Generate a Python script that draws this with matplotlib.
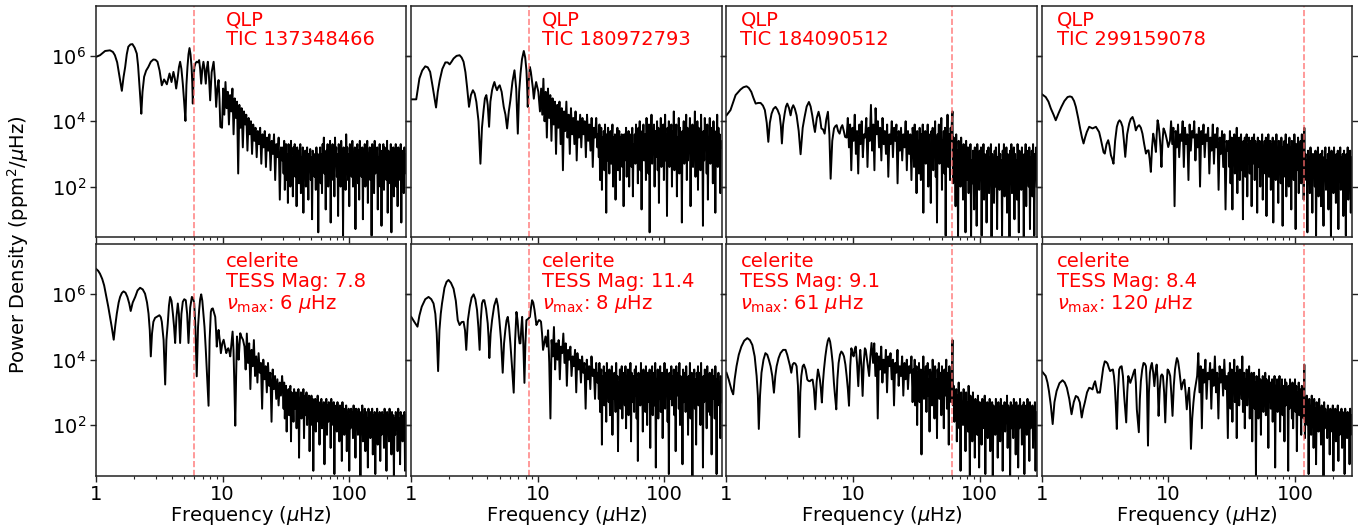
import numpy as np
import matplotlib
matplotlib.use("Agg")
import matplotlib.pyplot as plt
from matplotlib.ticker import FixedLocator, NullLocator, FuncFormatter, LogLocator, NullFormatter

# ---------------- data (frequency in uHz, log10 power density in ppm^2/uHz) ----------------
f_max = 283.0
f_split = 30.0

tic_ids = ["137348466", "180972793", "184090512", "299159078"]
tess_mag = ["7.8", "11.4", "9.1", "8.4"]
numax_label = ["6", "8", "61", "120"]
numax_line = [5.95, 8.45, 61.0, 119.0]
text_x = [0.42, 0.42, 0.045, 0.05]

# ---- smooth low-frequency part: (frequency, log10 power) ----
smooth1 = [(1.00,5.97),(1.075,6.02),(1.18,6.15),(1.29,6.17),(1.36,6.12),(1.41,6.02),(1.47,5.8),(1.52,5.46),(1.56,5.2),(1.60,4.93),
           (1.65,5.35),(1.70,5.66),(1.75,6.05),(1.80,6.28),(1.87,6.35),(1.94,6.36),(2.02,6.25),(2.10,6.07),(2.15,5.7),(2.20,5.15),
           (2.24,4.7),(2.28,4.23),(2.33,4.9),(2.40,5.36),(2.49,5.55),(2.59,5.66),(2.71,5.82),(2.84,5.89),(2.95,5.88),(3.06,5.82),
           (3.18,5.55),(3.31,5.10),(3.45,5.28),(3.63,5.13),(3.81,5.46),(3.95,5.20),(4.09,5.51),(4.20,5.3),(4.30,5.00),(4.43,5.36),
           (4.52,5.65),(4.62,5.82),(4.73,5.6),(4.85,5.15),(4.97,4.6),(5.09,4.01),(5.18,5.1),(5.28,5.66),(5.38,6.05),(5.48,6.24),
           (5.58,6.05),(5.69,5.66),(5.76,5.2),(5.82,4.54),(5.9,5.3),(5.99,5.66),(6.12,5.78),(6.25,5.82),(6.4,5.8),(6.53,5.87),
           (6.65,5.6),(6.78,5.15),(6.92,5.6),(7.06,5.82),(7.2,5.6),(7.37,5.15),(7.5,5.6),(7.65,5.82),(7.8,5.4),(7.98,4.64),
           (8.2,5.5),(8.5,5.82),(8.7,5.3),(8.9,4.44),(9.1,5.0),(9.3,5.26),(9.45,4.7),(9.6,3.83)]
smooth2 = [(1.00,4.67),(1.095,4.67),(1.16,5.31),(1.22,5.55),(1.29,5.68),(1.35,5.65),(1.41,5.51),(1.47,5.1),(1.57,4.42),(1.62,4.9),
           (1.68,5.26),(1.76,5.6),(1.86,5.80),(1.94,5.8),(2.01,5.74),(2.08,5.82),(2.16,5.92),(2.28,6.0),(2.41,6.02),(2.50,5.95),
           (2.59,5.82),(2.68,5.5),(2.76,5.05),(2.86,4.44),(2.96,4.8),(3.07,4.95),(3.17,4.85),(3.27,4.59),(3.40,4.0),(3.52,2.70),
           (3.62,3.8),(3.73,4.34),(3.82,4.7),(3.92,4.80),(4.02,4.5),(4.12,3.83),(4.22,4.6),(4.35,4.95),(4.45,5.1),(4.54,5.20),
           (4.65,5.05),(4.76,4.95),(4.88,5.05),(5.00,5.10),(5.18,4.9),(5.38,4.44),(5.55,4.2),(5.72,3.78),(5.9,4.3),(6.07,4.64),
           (6.3,5.2),(6.54,5.56),(6.75,5.0),(6.95,3.62),(7.12,4.9),(7.30,5.46),(7.5,5.9),(7.75,6.15),(7.95,5.95),(8.13,5.56),
           (8.25,5.0),(8.33,4.44),(8.5,5.3),(8.66,5.66),(8.82,5.5),(8.98,5.26),(9.15,5.0),(9.3,4.69),(9.5,5.0),(9.7,5.20),
           (9.9,5.05),(10.1,4.90)]
smooth3 = [(1.00,4.18),(1.075,4.34),(1.18,4.80),(1.29,4.97),(1.36,5.04),(1.44,5.07),(1.50,5.02),(1.57,4.90),(1.63,4.72),(1.70,4.54),
           (1.78,4.56),(1.86,4.56),(1.94,4.48),(2.01,4.34),(2.08,3.95),(2.14,3.37),(2.20,3.95),(2.27,4.23),(2.35,4.38),(2.44,4.44),
           (2.53,4.35),(2.63,4.18),(2.69,3.85),(2.74,3.32),(2.80,3.9),(2.88,4.23),(2.95,4.45),(3.02,4.54),(3.12,4.4),(3.21,4.18),
           (3.29,4.4),(3.37,4.49),(3.47,4.38),(3.58,4.18),(3.72,3.7),(3.85,2.99),(4.0,3.8),(4.14,4.13),(4.3,4.45),(4.48,4.59),
           (4.62,4.45),(4.76,4.18),(4.88,3.9),(5.00,3.67),(5.17,4.1),(5.34,4.29),(5.48,4.1),(5.62,3.78),(5.79,3.75),(5.96,3.62),
           (6.14,4.05),(6.33,4.29),(6.5,3.6),(6.65,2.24),(6.85,3.4),(7.07,3.78),(7.25,3.85),(7.42,3.88),(7.62,3.7),(7.83,3.62),
           (8.03,3.8),(8.23,3.88),(8.45,3.7),(8.65,3.52)]
smooth4 = [(1.00,4.83),(1.075,4.74),(1.13,4.6),(1.18,4.39),(1.24,4.2),(1.29,4.03),(1.36,4.25),(1.43,4.44),(1.51,4.62),(1.60,4.74),
           (1.67,4.76),(1.73,4.74),(1.80,4.62),(1.86,4.44),(1.94,4.1),(2.01,3.78),(2.08,3.5),(2.14,3.32),(2.20,3.5),(2.27,3.67),
           (2.37,3.83),(2.52,3.78),(2.68,3.83),(2.84,3.67),(2.93,3.45),(3.02,3.21),(3.08,3.05),(3.15,3.01),(3.25,3.3),(3.35,3.42),
           (3.43,3.25),(3.52,2.96),(3.60,2.85),(3.69,2.70),(3.80,3.4),(3.92,3.83),(4.02,3.97),(4.12,4.03),(4.23,3.97),(4.35,3.83),
           (4.46,3.4),(4.57,2.91),(4.73,3.6),(4.91,3.93),(5.05,4.07),(5.22,4.13),(5.38,3.98),(5.54,3.72),(5.7,3.83),(5.89,3.88),
           (6.07,3.8),(6.25,3.62),(6.45,3.3),(6.66,3.01),(6.82,3.1),(6.98,3.11),(7.12,2.85),(7.28,2.45),(7.44,3.2),(7.6,3.62),
           (7.78,3.4),(7.98,3.06),(8.1,3.6),(8.23,4.03),(8.37,3.9),(8.52,3.62),(8.68,3.2),(8.83,2.60),(9.0,3.4),(9.17,3.78),
           (9.36,3.7),(9.56,3.57),(9.78,3.4),(9.99,3.21)]
smooth5 = [(1.00,6.78),(1.04,6.72),(1.075,6.63),(1.12,6.47),(1.16,6.27),(1.25,5.62),(1.33,5.01),(1.38,4.61),(1.42,5.05),(1.46,5.41),
           (1.51,5.75),(1.55,5.92),(1.60,6.04),(1.65,6.09),(1.71,6.05),(1.77,5.92),(1.83,5.72),(1.88,5.49),(1.95,5.75),(2.04,5.92),
           (2.13,6.12),(2.23,6.20),(2.34,6.15),(2.44,6.02),(2.53,5.75),(2.60,5.41),(2.66,4.9),(2.71,4.10),(2.77,4.8),(2.84,5.16),
           (2.93,5.28),(3.02,5.31),(3.17,5.36),(3.25,5.30),(3.31,5.16),(3.42,4.6),(3.52,3.24),(3.60,4.6),(3.69,5.11),(3.77,5.65),
           (3.85,5.92),(3.95,5.8),(4.05,5.41),(4.14,5.0),(4.22,4.51),(4.32,5.3),(4.43,5.72),(4.52,5.4),(4.62,4.51),(4.73,5.4),
           (4.85,5.77),(4.98,5.85),(5.12,5.82),(5.25,5.4),(5.38,4.51),(5.55,5.6),(5.72,5.92),(5.85,5.88),(5.97,5.72),(6.1,5.0),
           (6.25,3.49),(6.4,5.0),(6.53,5.52),(6.65,5.85),(6.78,6.00),(6.92,5.8),(7.06,5.41),(7.2,5.0),(7.37,4.30),(7.55,3.5),
           (7.75,2.59),(7.9,4.6),(8.08,5.46),(8.2,5.55),(8.37,5.57),(8.55,5.45),(8.75,5.31),(8.88,4.9),(9.0,4.40),(9.15,4.7),
           (9.3,4.91),(9.5,4.6),(9.7,4.20),(9.95,4.5),(10.2,4.61),(10.45,4.4),(10.7,4.20),(10.9,4.3),(11.1,4.35),(11.3,4.25),
           (11.5,4.10),(11.75,4.5),(12.0,4.86),(12.1,4.6),(12.2,4.30),(12.4,3.2),(12.6,1.98),(12.8,3.5),(13.0,4.71),(13.2,4.4),
           (13.4,4.00),(13.6,4.4),(13.8,4.81),(14.1,4.7),(14.5,4.61)]
smooth6 = [(1.00,5.31),(1.06,5.15),(1.12,5.01),(1.16,5.35),(1.21,5.62),(1.29,5.85),(1.37,5.92),(1.44,5.85),(1.50,5.72),(1.55,5.4),
           (1.59,4.8),(1.63,3.65),(1.67,4.9),(1.71,5.4),(1.75,5.72),(1.83,6.2),(1.90,6.38),(1.97,6.44),(2.06,6.35),(2.16,6.17),
           (2.25,5.8),(2.33,5.21),(2.41,5.06),(2.50,5.15),(2.59,5.16),(2.66,4.9),(2.72,4.30),(2.80,5.2),(2.90,5.62),(3.00,5.9),
           (3.11,6.00),(3.21,5.85),(3.31,5.52),(3.39,5.0),(3.47,4.30),(3.54,5.2),(3.62,5.72),(3.70,5.82),(3.78,5.82),(3.90,5.55),
           (4.02,5.11),(4.08,4.7),(4.14,4.05),(4.24,4.8),(4.35,5.21),(4.52,5.65),(4.71,5.87),(4.84,5.65),(4.97,5.21),(5.12,4.6),
           (5.28,3.60),(5.41,4.5),(5.54,4.91),(5.66,5.2),(5.79,5.31),(5.93,5.0),(6.07,4.50),(6.25,3.8),(6.45,2.99),(6.62,4.6),
           (6.78,5.46),(6.92,5.2),(7.07,4.71),(7.18,4.5),(7.29,4.50),(7.40,4.95),(7.52,5.31),(7.68,4.5),(7.84,3.29),(7.98,4.5),
           (8.13,5.21),(8.4,5.25),(8.66,5.31),(8.84,5.6),(9.01,5.82),(9.2,5.75),(9.42,5.52),(9.58,5.3),(9.75,5.06),(10.0,5.15),
           (10.2,5.21),(10.4,5.2),(10.6,5.16),(10.8,4.8),(11.0,4.30),(11.25,4.5),(11.5,4.71)]
smooth7 = [(1.00,3.60),(1.04,3.4),(1.075,3.19),(1.10,3.05),(1.13,2.94),(1.16,3.4),(1.20,3.80),(1.25,4.15),(1.31,4.40),(1.38,4.58),
           (1.46,4.66),(1.53,4.6),(1.60,4.45),(1.67,4.1),(1.73,3.50),(1.77,2.9),(1.80,1.88),(1.84,2.9),(1.89,3.60),(1.96,4.0),
           (2.03,4.20),(2.10,4.15),(2.16,4.00),(2.23,3.8),(2.30,3.50),(2.37,2.99),(2.43,3.5),(2.49,3.80),(2.58,4.05),(2.67,4.20),
           (2.80,4.3),(2.93,4.30),(3.02,4.15),(3.11,3.95),(3.18,3.8),(3.25,3.60),(3.33,3.85),(3.41,3.90),(3.50,3.88),(3.58,3.80),
           (3.67,3.2),(3.76,1.63),(3.83,3.0),(3.90,3.50),(4.0,3.8),(4.09,3.85),(4.22,3.7),(4.35,3.39),(4.45,3.35),(4.56,3.34),
           (4.67,3.38),(4.79,3.39),(4.91,3.1),(5.03,2.48),(5.15,3.3),(5.28,3.70),(5.38,3.55),(5.47,3.39),(5.57,3.1),(5.67,2.69),
           (5.78,3.3),(5.89,3.70),(6.04,4.1),(6.19,4.40),(6.32,4.58),(6.45,4.66),(6.59,4.55),(6.73,4.30),(6.9,3.9),(7.06,3.29),
           (7.2,2.9),(7.37,2.48),(7.52,3.4),(7.69,3.90),(7.88,4.15),(8.08,4.25),(8.28,4.2),(8.48,4.10),(8.7,3.85),(8.9,3.50),
           (9.1,3.1),(9.29,2.59),(9.5,3.8),(9.7,4.35),(9.9,4.2),(10.1,4.10),(10.3,4.3),(10.5,4.40),(10.75,3.9),(11.0,3.19),
           (11.2,3.9),(11.4,4.30),(11.65,3.8),(11.9,2.89),(12.15,3.9),(12.4,4.35),(12.6,4.3),(12.8,4.10),(13.1,3.8),(13.4,3.50),
           (13.7,4.1),(14.0,4.51)]
smooth8 = [(1.00,3.65),(1.075,3.50),(1.11,3.3),(1.14,3.04),(1.18,2.6),(1.22,2.03),(1.26,2.7),(1.31,3.04),(1.38,3.28),(1.46,3.37),
           (1.52,3.3),(1.58,3.14),(1.65,2.8),(1.72,2.33),(1.79,2.7),(1.86,2.89),(1.93,2.85),(2.00,2.69),(2.07,2.23),(2.13,2.5),
           (2.19,2.69),(2.28,3.0),(2.37,3.14),(2.45,3.12),(2.52,3.09),(2.58,3.25),(2.64,3.34),(2.70,3.15),(2.76,2.99),(2.82,3.0),
           (2.88,2.99),(2.93,3.2),(2.98,3.39),(3.06,3.75),(3.15,3.95),(3.23,3.93),(3.31,3.88),(3.39,3.75),(3.47,3.65),(3.56,3.68),
           (3.65,3.70),(3.72,3.5),(3.78,3.19),(3.85,2.6),(3.92,1.88),(4.0,3.0),(4.09,3.70),(4.18,3.78),(4.28,3.80),(4.38,3.5),
           (4.48,2.89),(4.56,2.5),(4.65,2.08),(4.74,3.0),(4.83,3.50),(4.92,3.4),(5.01,3.29),(5.12,3.4),(5.22,3.50),(5.33,3.62),
           (5.44,3.70),(5.54,3.3),(5.64,2.48),(5.75,2.1),(5.85,1.78),(5.96,2.8),(6.07,3.34),(6.22,3.7),(6.37,3.90),(6.52,3.88),
           (6.66,3.80),(6.78,3.2),(6.91,1.37),(7.03,3.0),(7.16,3.60),(7.29,3.8),(7.42,3.90),(7.6,3.6),(7.76,3.19),(7.92,3.6),
           (8.09,3.85),(8.23,3.4),(8.38,2.28),(8.56,3.1),(8.74,3.50),(8.9,3.55),(9.07,3.50),(9.27,3.0),(9.46,2.08),(9.66,3.1),
           (9.87,3.70),(10.1,3.65),(10.35,3.50),(10.55,3.0),(10.8,2.28),(11.05,3.2),(11.3,3.70),(11.5,3.9),(11.7,4.05),(11.95,3.95),
           (12.2,3.70),(12.45,3.4),(12.7,3.09),(13.05,3.3),(13.4,3.39),(13.7,3.0),(14.0,2.48),(14.3,2.9),(14.6,3.14),(14.85,2.5),
           (15.1,1.27),(15.45,2.2),(15.8,2.69),(16.1,3.0),(16.4,3.19)]

# ---- noisy middle part: log10 power on log-spaced bins from mid_start to 30 uHz ----
mid_start = [9.9, 10.4, 8.9, 10.3, 14.9, 11.8, 14.4, 16.9]
mid1 = [3.8,5.0,4.2,5.2,4.4,4.9,3.9,4.8,4.3,5.0, 3.6,4.7,4.1,4.6,2.4,4.5,3.8,4.4,3.2,4.3,
        3.9,4.2,3.1,4.1,3.6,4.0,3.0,3.9,3.4,3.8, 2.9,3.7,3.3,3.8,2.7,3.6,3.2,3.7,2.6,3.5,
        3.1,3.6,2.5,3.4,3.0,3.6,2.2,3.3,2.9,3.5, 1.6,3.2,2.8]
mid2 = [4.3,5.0,4.2,5.3,4.0,4.9,3.5,5.0,4.1,4.8, 3.4,4.7,3.9,4.6,3.0,4.5,3.8,4.6,3.3,4.4,
        2.5,4.3,3.7,4.6,3.5,4.2,3.0,4.4,3.6,4.1, 3.3,4.3,2.8,4.0,3.5,4.2,3.2,4.1,3.6,4.0,
        2.9,4.2,3.4,3.9,3.1,4.1,2.6,3.8,3.5,4.1, 3.2]
mid3 = [3.5,4.1,3.2,3.9,2.5,3.8,3.4,4.2,3.0,3.7, 2.4,3.9,3.3,4.0,2.9,3.6,3.5,4.1,2.6,3.8,
        3.4,4.5,3.1,3.9,2.5,4.4,3.6,4.0,3.2,3.8, 2.8,4.1,3.3,3.7,3.0,3.9,2.3,3.6,3.3,4.0,
        2.9,3.8,3.4,3.9,2.1,3.7,3.1,3.8,2.8,3.6, 3.2,4.0,2.5,3.7,3.0,3.6,2.2,3.8]
mid4 = [3.4,4.0,3.3,3.8,1.4,3.7,3.2,3.9,2.9,3.6, 3.4,4.0,2.6,3.8,3.3,3.6,2.2,3.9,3.1,3.7,
        3.5,4.0,2.8,3.6,3.2,3.8,2.0,3.7,3.3,3.9, 2.9,3.6,3.4,3.8,2.4,3.5,3.1,3.9,2.7,3.6,
        3.2,3.8,1.9,3.5,3.0,3.7,2.6,3.6,1.3,3.4, 3.1]
mid5 = [4.4,3.7,4.8,3.9,4.5,3.1,4.3,3.8,4.6,3.5, 4.1,3.3,4.2,3.6,3.9,2.5,4.0,3.4,3.8,3.0,
        3.9,3.2,3.6,2.1,3.7,3.1,3.5,2.8,3.4,2.6, 3.3,2.9,3.5]
mid6 = [4.4,4.9,3.9,2.2,4.6,4.1,5.0,3.7,4.5,4.0, 4.6,3.4,4.4,4.2,4.8,3.9,4.5,3.2,4.3,4.0,
        4.4,3.5,4.1,3.8,4.3,3.0,4.2,3.7,4.0,3.3, 4.1,3.6,3.9,2.5,4.0,3.4,3.8,3.1,4.1,3.5,
        3.7,2.8,3.9,3.3]
mid7 = [3.9,4.5,3.5,4.2,2.2,4.1,3.7,4.4,3.3,4.0, 3.6,4.3,3.0,4.1,3.8,4.2,3.4,4.0,2.6,3.9,
        3.6,4.3,3.2,3.8,3.5,4.1,2.9,3.9,3.4,4.0, 3.1,3.8,3.6,4.1,2.7]
mid8 = [3.5,4.2,3.0,3.8,1.9,3.7,3.3,4.0,2.8,3.6, 3.4,3.9,2.5,3.7,3.2,4.1,3.0,3.6,2.2,3.8,
        3.3,3.7,2.9,4.0,3.1,3.5,1.6]

# ---- noisy high-frequency part: log10 power on log-spaced bins from 30 to 283 uHz ----
high1 = [3.2,2.4,3.4,1.9,2.9,3.3,2.2,3.0,1.5,3.3, 2.7,3.1,2.0,3.4,2.5,2.9,1.7,3.2,2.8,3.3,
         2.3,3.0,1.4,3.2,2.6,3.1,2.1,2.8,3.3,1.8, 2.9,2.4,3.2,1.2,3.0,2.6,3.1,2.0,2.7,3.2,
         2.5,1.6,3.0,2.8,3.15,2.2,2.9,1.0,3.1,2.6, 3.0,2.3,2.8,1.9,3.2,2.5,3.0,0.6,2.9,2.7,
         3.2,2.1,3.0,1.8,3.3,2.6,3.5,2.4,2.9,1.3, 3.1,2.7,3.3,2.0,3.0,2.5,3.4,0.9,3.1,2.6,
         3.3,2.2,3.0,1.7,3.5,2.8,3.2,2.3,3.0,1.1, 3.3,2.6,3.1,2.0,3.4,2.7,2.9,0.5,3.2,2.4,
         3.0,1.9,3.6,2.8,3.2,2.2,3.0,1.4,3.3,2.6, 3.1,2.3,3.4,2.0,2.9,2.7,3.2,0.7,3.0,2.5,
         3.3,2.1,3.1,1.6,3.4,2.7,3.0,2.3,3.2,1.0, 3.1,2.6,3.3,2.0,2.9,2.5,3.4,1.5,3.0,2.8,
         3.2,2.2,3.0,0.5,3.3,2.7,3.1,1.8,3.4,2.4, 3.0,2.6,3.2,1.3,2.9,2.3,3.3,2.0,3.1,0.8,
         3.0,2.5,3.3,1.9,3.2,2.7,3.0,2.2,3.4,1.2, 3.1,2.6,2.9,2.1,3.3,0.6,3.0,2.4,3.2,1.7,
         3.1,2.7,3.3,2.0,3.0,1.4,3.2,2.5,2.9,2.2, 3.3,0.9,3.1,2.6,3.0,1.8,3.2,2.4,3.0,2.7]
high2 = [3.6,2.9,3.9,2.2,3.4,3.8,1.9,3.5,3.0,3.7, 2.5,3.9,3.2,1.2,3.6,2.8,3.8,3.1,2.4,3.5,
         3.7,2.7,3.3,3.9,2.0,3.5,3.0,3.6,1.6,3.4, 2.9,3.8,2.5,3.3,3.7,2.2,3.5,3.0,3.6,2.6,
         3.4,1.4,3.6,2.8,3.3,3.8,2.3,3.5,2.9,3.7, 2.0,3.4,3.1,3.6,2.6,3.8,1.7,3.3,3.0,3.6,
         2.7,3.9,3.2,3.5,2.1,3.8,3.0,4.0,2.5,3.6, 1.3,3.7,3.1,3.9,2.8,3.4,3.6,2.2,4.1,3.0,
         3.7,2.4,3.9,0.6,3.5,3.1,4.2,2.7,3.6,3.3, 3.9,2.0,3.7,2.9,3.4,4.0,2.5,3.8,1.5,3.6,
         3.2,4.1,2.6,3.7,3.0,3.9,2.2,3.5,4.2,2.8, 3.6,1.1,3.8,3.1,4.0,2.6,3.5,3.3,3.9,2.0,
         3.7,3.0,4.3,2.5,3.6,3.2,3.9,1.7,3.5,2.9, 4.1,2.4,3.8,3.0,3.6,0.9,3.7,3.3,4.0,2.7,
         3.5,3.1,4.2,2.2,3.8,2.8,3.6,3.4,4.1,1.4, 3.7,3.0,3.9,2.6,3.5,3.2,4.3,2.3,3.6,2.9,
         4.0,1.9,3.8,3.1,3.6,2.5,4.2,3.0,3.5,0.8, 3.7,2.8,4.1,3.2,3.6,2.4,3.9,1.6,3.5,3.0,
         4.1,2.7,3.8,3.3,3.6,2.1,4.0,2.9,3.7,1.2, 3.5,3.1,4.2,2.6,3.8,3.0,3.6,1.8,3.4,3.2]
high3 = [3.5,2.6,3.9,2.9,3.3,1.8,3.7,3.0,3.4,2.4, 3.8,3.1,2.2,3.6,2.8,3.9,1.2,3.4,3.0,3.7,
         2.7,3.5,3.2,3.9,2.0,3.6,2.9,3.3,1.5,3.7, 3.1,3.8,2.5,3.4,3.0,4.0,2.3,3.5,0.9,3.6,
         3.2,3.9,2.7,3.5,3.0,4.1,1.9,3.4,3.1,3.7, 2.4,3.8,0.5,3.5,3.0,4.2,2.6,3.3,3.6,2.2,
         3.8,3.4,4.0,4.3,2.1,3.5,2.8,3.2,1.4,3.6, 2.5,3.1,0.4,3.4,2.7,3.0,2.0,3.5,2.4,3.2,
         1.6,3.3,2.6,3.0,0.6,3.4,2.2,2.9,3.2,1.8, 3.0,2.5,3.3,0.4,2.8,2.1,3.1,2.6,1.3,3.2,
         2.4,2.9,0.8,3.3,2.7,3.0,1.9,3.1,2.3,3.2, 0.5,2.8,2.5,3.3,1.6,3.0,2.2,2.9,0.9,3.1,
         2.6,3.2,1.8,2.9,2.3,3.3,0.4,3.0,2.5,2.8, 1.5,3.1,2.0,3.2,2.7,0.7,2.9,2.4,3.3,1.9,
         3.0,2.2,2.8,0.5,3.1,2.6,3.3,1.7,2.9,2.3, 3.2,1.2,3.0,2.5,2.7,0.4,3.1,2.1,3.3,1.8,
         2.9,2.6,3.2,1.0,3.0,2.3,2.8,1.6,3.3,2.4, 0.6,3.1,2.7,3.0,1.9,3.2,2.2,2.9,0.4,3.0,
         2.5,3.3,1.4,3.1,2.8,3.0,2.0,3.2,0.7,2.9, 2.4,3.1,1.7,3.3,2.6,0.5,3.0,2.3,3.2,2.0]
high4 = [3.4,2.6,3.7,2.1,3.2,3.5,1.3,3.3,2.8,3.6, 2.4,3.4,3.0,3.8,1.8,3.3,2.7,3.5,2.2,3.1,
         3.6,2.5,3.3,1.0,3.4,2.9,3.5,2.3,3.2,3.6, 1.7,3.3,2.8,3.5,2.4,3.1,3.4,1.4,3.5,2.7,
         3.2,3.6,2.2,3.4,2.9,3.3,1.2,3.5,2.6,3.1, 3.4,2.0,3.3,2.7,3.6,1.6,3.2,2.9,3.4,2.4,
         3.5,1.1,3.3,2.8,3.6,2.3,3.1,3.4,1.9,3.3, 2.6,3.5,0.9,3.2,2.9,3.4,2.2,3.6,2.7,3.1,
         1.5,3.4,2.8,3.3,2.1,3.5,3.0,0.8,3.2,2.6, 3.4,2.3,3.6,1.7,3.1,2.9,3.3,2.0,3.5,2.5,
         3.2,1.3,3.4,2.7,3.0,2.2,3.6,2.8,0.7,3.3, 2.5,3.1,3.5,1.8,3.2,2.9,3.4,2.1,3.6,2.6,
         3.3,1.6,3.8,2.6,3.0,2.2,2.8,0.6,3.1,2.4, 2.9,1.8,3.2,2.5,2.7,1.2,3.0,2.3,2.9,2.0,
         3.1,0.5,2.8,2.4,3.2,1.7,2.9,2.2,3.0,1.4, 2.7,3.1,2.3,0.8,2.9,2.6,3.2,1.9,2.8,2.1,
         3.0,1.3,3.2,2.5,2.7,0.4,3.1,2.2,2.9,1.8, 3.2,2.4,2.6,1.5,3.0,2.3,3.1,0.7,2.8,2.5,
         3.2,1.9,2.9,2.2,3.0,1.1,3.1,2.6,2.7,0.5, 3.0,2.3,3.2,1.6,2.8,2.5,3.1,1.2,2.9,2.4]
high5 = [3.1,2.5,3.3,2.2,2.9,3.2,1.8,3.0,2.6,3.1, 2.3,2.9,3.2,1.5,3.0,2.7,2.9,2.1,3.1,2.5,
         2.8,3.0,1.9,2.9,2.4,3.1,1.0,2.8,2.6,3.0, 2.2,2.9,2.5,3.1,1.6,2.7,2.9,2.3,3.0,2.0,
         2.8,2.4,2.9,1.2,2.7,2.5,2.9,2.0,2.8,0.6, 2.6,2.3,2.8,1.8,2.7,2.4,2.9,2.1,2.6,1.4,
         2.7,2.2,2.8,1.9,2.6,2.4,2.7,0.8,2.5,2.3, 2.8,1.7,2.6,2.1,2.7,2.4,2.5,1.3,2.8,2.0,
         2.6,2.2,2.7,0.5,2.5,2.3,2.6,1.8,2.7,2.0, 2.4,1.5,2.6,2.2,2.5,0.9,2.7,2.1,2.4,1.7,
         2.5,2.0,2.6,1.2,2.4,2.2,2.5,0.6,2.3,1.9, 2.5,2.1,2.4,1.6,2.6,1.9,2.3,1.0,2.5,2.0,
         2.4,1.7,2.5,2.1,2.3,0.4,2.4,1.9,2.6,1.5, 2.3,2.0,2.5,1.2,2.4,1.8,2.2,0.7,2.5,1.9,
         2.3,1.6,2.4,2.0,2.5,1.1,2.3,1.8,2.4,0.5, 2.2,1.9,2.5,1.4,2.3,2.0,2.4,0.9,2.2,1.7,
         2.4,1.9,2.3,1.3,2.5,1.8,2.2,0.6,2.4,2.0, 2.3,1.5,2.5,1.8,2.1,1.1,2.4,1.9,2.3,0.4,
         2.2,1.7,2.4,1.9,2.3,1.2,2.5,1.8,2.2,0.8, 2.4,2.0,2.3,1.5,2.1,1.9,2.4,0.6,2.3,1.8]
high6 = [3.6,2.8,3.9,2.4,3.4,3.7,1.4,3.5,3.0,3.8, 2.6,3.3,3.6,2.1,3.9,3.1,3.4,2.7,3.7,2.3,
         3.5,3.0,3.8,1.7,3.4,2.8,3.6,3.2,2.4,3.9, 3.0,3.5,1.2,3.3,2.9,3.7,2.5,3.4,3.8,2.2,
         3.6,3.1,3.3,2.6,3.8,1.9,3.5,2.9,3.7,2.3, 3.4,3.0,3.9,1.5,3.6,2.7,3.3,3.5,2.4,3.7,
         2.9,3.8,2.2,3.4,0.9,3.6,3.1,3.5,2.6,3.9, 2.8,3.3,1.8,3.7,3.0,3.4,2.4,3.8,3.2,2.0,
         3.6,2.7,3.4,3.7,1.3,3.5,2.9,3.8,2.3,3.3, 3.6,2.6,3.9,0.7,3.4,3.0,3.7,2.2,3.5,2.8,
         3.8,2.4,3.3,3.6,1.6,3.4,2.9,3.9,2.5,3.5, 3.1,3.7,2.1,3.4,0.5,3.6,2.8,3.3,3.8,2.6,
         3.5,3.0,3.7,2.3,3.4,1.2,3.8,2.9,3.3,3.6, 2.5,3.9,2.0,3.5,3.1,3.4,0.8,3.7,2.7,3.3,
         3.6,2.4,3.8,3.0,3.4,1.7,3.5,2.8,3.9,2.2, 3.3,3.6,0.4,3.5,2.9,3.7,2.5,3.4,1.4,3.6,
         3.1,3.8,2.6,3.3,3.6,2.0,3.9,2.9,3.4,0.7, 3.5,2.7,3.7,3.0,3.3,1.9,3.8,2.4,3.5,3.1,
         3.6,2.3,3.4,1.1,3.7,2.8,3.5,3.0,2.2,3.8, 3.2,0.5,3.4,2.6,3.6,2.9,3.3,1.6,3.5,2.7]
high7 = [3.7,3.0,4.0,2.6,3.5,3.8,2.0,3.6,3.2,3.9, 2.7,3.4,3.7,1.1,3.5,3.1,4.1,2.8,3.6,3.3,
         3.8,2.4,3.5,3.9,2.9,3.4,1.8,3.7,3.1,3.6, 2.6,4.0,3.3,3.5,2.2,3.8,3.0,3.4,1.6,3.7,
         3.2,3.9,2.8,3.5,3.6,2.3,3.8,3.1,3.4,1.9, 3.7,2.9,3.5,4.0,2.5,3.3,3.6,1.4,3.8,3.0,
         3.5,2.7,3.7,4.6,2.6,3.2,2.1,3.0,2.5,3.1, 1.5,2.9,2.3,3.3,1.9,2.8,0.6,3.0,2.4,2.7,
         2.0,3.1,2.5,2.8,1.2,3.0,2.2,2.7,1.8,3.2, 2.4,0.4,2.9,2.1,2.6,1.5,3.0,2.3,2.7,1.0,
         2.8,2.2,2.6,1.7,2.9,2.4,0.7,2.7,2.0,2.5, 1.4,2.8,2.3,2.6,1.9,2.9,0.5,2.5,2.1,2.7,
         1.6,2.6,2.2,2.8,1.2,2.5,2.0,2.7,0.4,2.6, 2.3,2.5,1.7,2.8,2.1,2.4,1.0,2.7,2.2,2.5,
         1.5,2.8,2.0,2.6,0.6,2.5,2.3,2.7,1.8,2.4, 2.1,2.9,1.3,2.6,2.2,2.5,0.4,2.7,1.9,2.4,
         2.6,1.6,2.8,2.1,2.5,1.1,2.7,2.3,2.4,0.7, 2.6,1.9,2.8,2.2,2.5,1.4,2.6,2.0,2.7,0.5,
         2.4,2.1,2.6,1.7,2.8,2.2,2.5,0.9,2.7,1.9, 2.4,2.3,2.6,1.3,2.5,2.0,2.7,0.6,2.4,2.1]
high8 = [3.6,2.9,3.9,2.5,3.4,3.7,2.1,3.5,3.0,4.0, 2.7,3.3,3.6,1.6,3.8,3.1,3.4,2.6,3.7,3.2,
         3.5,2.8,4.1,2.4,3.3,3.6,1.9,3.4,3.0,3.7, 2.6,3.5,3.2,3.8,2.2,3.4,2.9,3.6,1.5,3.3,
         3.1,3.6,2.5,3.3,0.4,3.5,2.9,3.2,2.2,3.7, 2.8,3.4,1.7,3.3,3.0,3.5,2.4,3.2,2.7,3.6,
         2.3,3.4,3.0,3.2,1.3,3.5,2.8,3.3,2.5,3.1, 3.4,2.1,3.3,2.9,3.5,0.7,3.2,2.6,3.4,2.4,
         3.3,2.8,3.5,1.8,3.1,2.7,3.4,2.3,3.2,3.0, 1.5,3.4,2.6,3.3,2.9,3.1,0.6,3.2,2.5,3.4,
         2.8,3.1,2.2,3.3,1.9,3.0,2.7,3.4,2.4,3.2, 1.2,3.0,2.6,3.3,2.3,3.1,2.8,1.7,3.2,2.5,
         3.0,2.2,3.85,1.6,2.7,2.4,2.9,2.0,2.6,0.5, 2.8,2.2,2.5,1.7,2.9,2.3,2.6,1.3,2.8,2.1,
         2.5,0.8,2.7,2.2,2.4,1.8,2.8,2.0,2.5,1.4, 2.6,2.3,2.4,0.4,2.7,1.9,2.5,2.1,2.3,1.6,
         2.6,2.0,2.3,1.1,2.5,1.8,2.4,2.1,2.6,0.6, 2.3,1.9,2.5,1.5,2.2,2.0,2.6,0.9,2.4,1.7,
         2.3,2.0,2.5,1.3,2.4,1.8,2.2,0.5,2.5,2.0, 2.3,1.6,2.4,1.9,2.2,0.8,2.5,1.7,2.3,2.1]

smooth_parts = [smooth1, smooth2, smooth3, smooth4, smooth5, smooth6, smooth7, smooth8]
mid_parts = [mid1, mid2, mid3, mid4, mid5, mid6, mid7, mid8]
high_parts = [high1, high2, high3, high4, high5, high6, high7, high8]

# ---------------- figure ----------------
plt.rcParams['font.family'] = ['DejaVu Sans']
plt.rcParams['mathtext.fontset'] = 'dejavusans'
fig, axes = plt.subplots(2, 4, figsize=(13.58, 5.31), dpi=100, sharex=True, sharey=True)
fig.subplots_adjust(left=0.0707, right=0.9956, top=0.989, bottom=0.104,
                    wspace=0.016, hspace=0.03)

for k in range(8):
    row, col = divmod(k, 4)
    ax = axes[row, col]
    sf = [p[0] for p in smooth_parts[k]]
    sp = [p[1] for p in smooth_parts[k]]
    mf = list(np.geomspace(mid_start[k], f_split * 0.985, len(mid_parts[k])))
    hf = list(np.geomspace(f_split, f_max, len(high_parts[k])))
    f = sf + mf + hf
    lp = sp + list(mid_parts[k]) + list(high_parts[k])
    ax.plot(f, 10 ** np.array(lp), color='k', lw=1.4)
    ax.axvline(numax_line[col], color='#ff6b6b', ls='--', lw=1.2, alpha=0.8)
    if row == 0:
        txt = "QLP\nTIC " + tic_ids[col]
        ls, ty = 1.0, 0.978
    else:
        txt = ("celerite\nTESS Mag: " + tess_mag[col] + "\n"
               + r"$\nu_{\rm max}$: " + numax_label[col] + r" $\mu$Hz")
        ls, ty = 1.12, 0.968
    ax.text(text_x[col], ty, txt, transform=ax.transAxes, color='red',
            fontsize=14, va='top', ha='left', linespacing=ls)

    ax.set_xscale('log')
    ax.set_yscale('log')
    for s in ax.spines.values():
        s.set_color('#222222')
        s.set_linewidth(1.1)
    ax.tick_params(which='both', direction='out', right=True, top=False,
                   labelsize=14, colors='#222222', labelcolor='black')
    ax.tick_params(which='major', length=4.5, width=1.0, pad=2.5)
    ax.tick_params(which='minor', length=2.5, width=0.8)
    if row == 1:
        ax.set_xlabel(r"Frequency ($\mu$Hz)", fontsize=14, labelpad=0)

ax0 = axes[0, 0]
ax0.set_xlim(1, f_max)
ax0.set_ylim(2.8, 3.4e7)
ax0.yaxis.set_major_locator(FixedLocator([1e2, 1e4, 1e6]))
ax0.yaxis.set_minor_locator(NullLocator())
ax0.xaxis.set_major_locator(FixedLocator([1, 10, 100]))
ax0.xaxis.set_major_formatter(FuncFormatter(lambda v, p: "%d" % round(v)))
ax0.xaxis.set_minor_locator(LogLocator(base=10, subs=np.arange(2, 10)))
ax0.xaxis.set_minor_formatter(NullFormatter())

fig.text(0.013, 0.54, r"Power Density (ppm$^2$/$\mu$Hz)", rotation=90,
         fontsize=14, va='center', ha='center')

fig.savefig("out.png", dpi=100)
